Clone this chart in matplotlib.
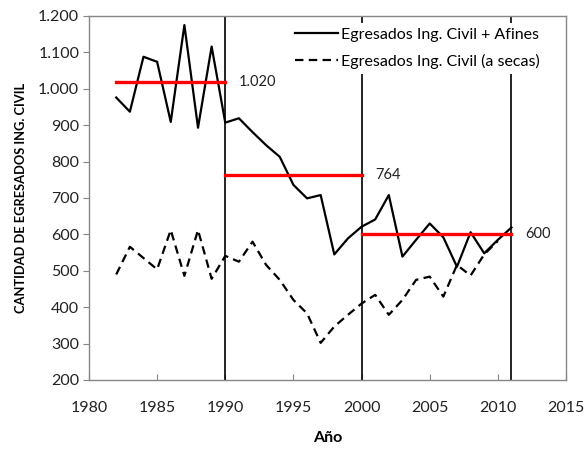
import matplotlib
matplotlib.use('Agg')
import matplotlib.pyplot as plt
from matplotlib.ticker import FuncFormatter

plt.rcParams['font.family'] = ['Lato', 'DejaVu Sans']

years_afines = list(range(1982, 2012))
afines = [976, 937, 1088, 1074, 909, 1175, 893, 1116, 907, 919,
          881, 845, 813, 736, 699, 708, 545, 589, 621, 641,
          708, 539, 585, 630, 592, 511, 606, 548, 585, 619]

years_secas = list(range(1982, 2011))
secas = [490, 566, 535, 504, 612, 486, 612, 478, 541, 525,
         580, 516, 475, 420, 383, 302, 347, 379, 410, 434,
         379, 420, 475, 484, 429, 516, 487, 545, 582]

# promedios por periodo
periods = [(1982, 1990), (1990, 2000), (2000, 2011)]
averages = [1020, 764, 600]
avg_labels = ['1.020', '764', '600']
label_x = [1991, 2001, 2012]

dividers = [1990, 2000, 2011]

fig = plt.figure(figsize=(5.85, 4.54), dpi=100)
ax = fig.add_axes([0.1521, 0.163, 0.8154, 0.8018])

for x in dividers:
    ax.axvline(x, color='black', lw=1.2, zorder=2)

ax.plot(years_afines, afines, color='black', lw=1.6, label='Egresados Ing. Civil + Afines', zorder=3)
ax.plot(years_secas, secas, color='black', lw=1.6, dashes=(3.8, 2.4), label='Egresados Ing. Civil (a secas)', zorder=3)

for (x0, x1), avg, lab, lx in zip(periods, averages, avg_labels, label_x):
    ax.plot([x0, x1], [avg, avg], color='#ff0000', lw=2.4, zorder=4)
    ax.text(lx, avg, lab, fontsize=10.5, va='center', ha='left', color='#222222')

ax.set_xlim(1980, 2015)
ax.set_ylim(200, 1200)
ax.set_xticks(range(1980, 2016, 5))
ax.set_yticks(range(200, 1201, 100))
ax.yaxis.set_major_formatter(FuncFormatter(lambda v, p: f'{int(v):,}'.replace(',', '.')))

for s in ax.spines.values():
    s.set_color('#868686')
    s.set_linewidth(1)
ax.tick_params(axis='y', direction='out', length=4, color='#868686', labelsize=11.5, labelcolor='#222222', pad=3)
ax.tick_params(axis='x', direction='in', length=4, color='#868686', labelsize=11.5, labelcolor='#222222', pad=15)

ax.set_xlabel('Año', fontsize=11.5, fontweight='bold', labelpad=12)
ax.set_ylabel('CANTIDAD DE EGRESADOS ING. CIVIL', fontsize=9.3, fontweight='bold', labelpad=8)

leg = ax.legend(loc='upper right', bbox_to_anchor=(0.962, 0.99), frameon=True, fontsize=11.5,
                handlelength=2.7, handletextpad=0.2, labelspacing=0.75, borderaxespad=0.2,
                borderpad=0.3)
leg.get_frame().set_edgecolor('none')
leg.get_frame().set_facecolor('white')
leg.get_frame().set_alpha(1)
leg.set_zorder(5)

fig.savefig('out.png', dpi=100)
